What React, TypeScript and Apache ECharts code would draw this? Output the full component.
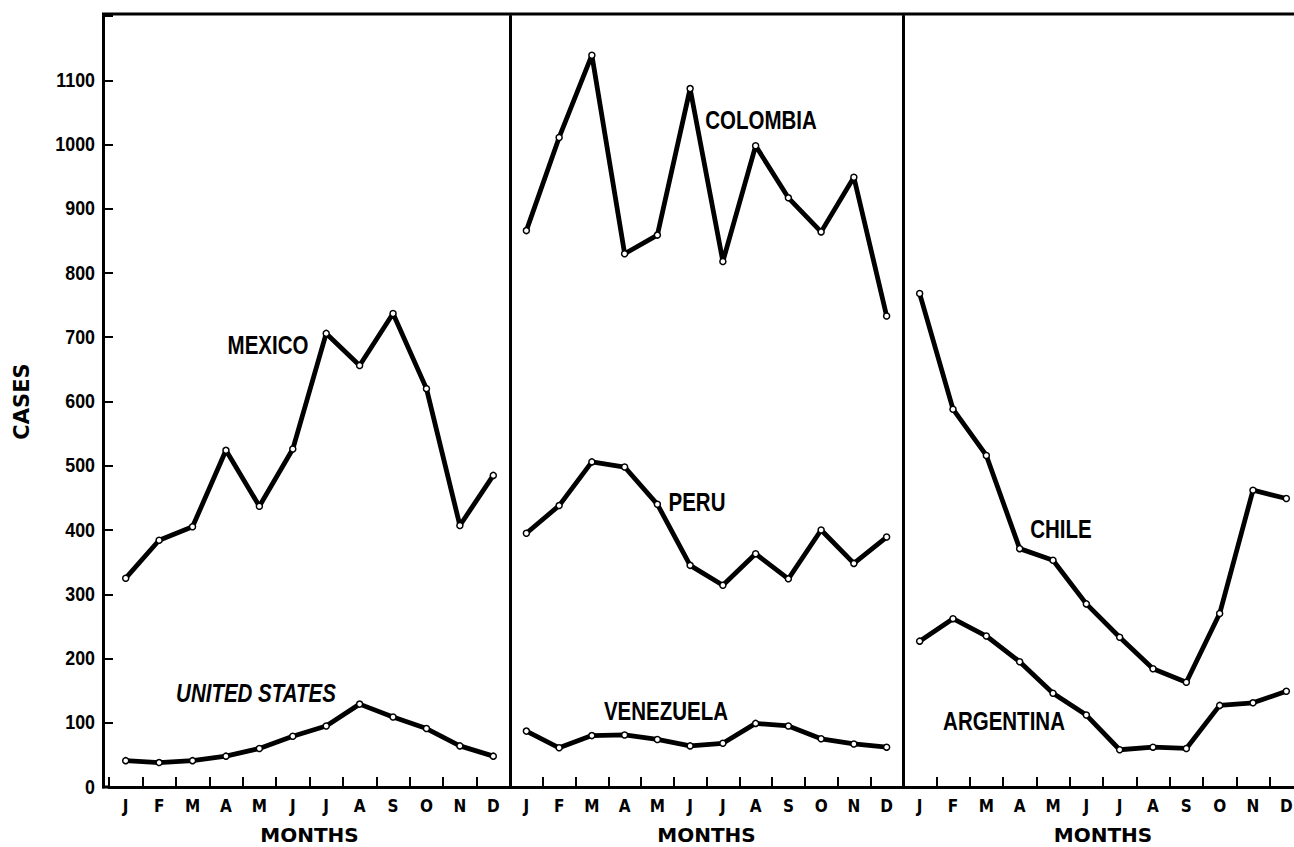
import React, { useEffect, useRef } from "react";
import * as echarts from "echarts";

const months = ["J", "F", "M", "A", "M", "J", "J", "A", "S", "O", "N", "D"];

const mexico = [325, 384, 405, 524, 437, 526, 706, 656, 737, 620, 407, 485];
const unitedStates = [41, 38, 41, 48, 60, 79, 95, 129, 109, 91, 64, 48];
const colombia = [866, 1011, 1139, 830, 859, 1087, 818, 998, 917, 864, 949, 733];
const peru = [395, 438, 506, 498, 440, 345, 314, 363, 324, 400, 348, 389];
const venezuela = [87, 61, 80, 81, 74, 64, 68, 99, 95, 75, 67, 62];
const chile = [768, 588, 516, 371, 353, 285, 233, 184, 163, 270, 462, 449];
const argentina = [227, 262, 235, 195, 146, 112, 58, 62, 60, 127, 131, 149];

const yTickLabels = [0, 100, 200, 300, 400, 500, 600, 700, 800, 900, 1000, 1100];
const yMin = 0;
const yMax = 1200;
const yInterval = 100;

const NARROW = "'Liberation Sans', Arial, sans-serif";
const CONDENSED = "'DejaVu Sans Condensed', 'Liberation Sans', sans-serif";
const WIDE = "'DejaVu Sans', Verdana, sans-serif";

export default function App() {
  const ref = useRef<HTMLDivElement>(null);

  useEffect(() => {
    document.body.style.margin = "0";
    if (!ref.current) return;
    const chart = echarts.init(ref.current, null, { renderer: "svg" });

    const grids = [
      { left: 109, top: 16, width: 401, height: 771, outerBoundsMode: "none", containLabel: false },
      { left: 510, top: 16, width: 393, height: 771, outerBoundsMode: "none", containLabel: false },
      { left: 903, top: 16, width: 400, height: 771, outerBoundsMode: "none", containLabel: false },
    ];

    const xAxes = grids.map((_, i) => ({
      type: "category",
      gridIndex: i,
      data: months,
      boundaryGap: true,
      name: "MONTHS",
      nameLocation: "middle",
      nameGap: 38,
      nameTextStyle: { fontFamily: WIDE, fontWeight: "bold", fontSize: 20, color: "#000", lineHeight: 20 },
      axisLine: { show: true, lineStyle: { color: "#000", width: 3 } },
      axisTick: { show: true, inside: true, length: 10, lineStyle: { color: "#000", width: 2 } },
      axisLabel: {
        color: "#000",
        fontFamily: CONDENSED,
        fontWeight: "bold",
        fontSize: 17,
        margin: 10,
        interval: 0,
      },
      splitLine: { show: false },
    }));

    const yAxes = grids.map((_, i) => ({
      type: "value",
      gridIndex: i,
      min: yMin,
      max: yMax,
      interval: yInterval,
      offset: i === 0 ? 6 : 0,
      name: i === 0 ? "CASES" : "",
      nameLocation: "middle",
      nameGap: 71,
      nameTextStyle: { fontFamily: WIDE, fontWeight: "bold", fontSize: 21, color: "#000" },
      axisLine: { show: true, lineStyle: { color: "#000", width: 3 } },
      axisTick: { show: i === 0, inside: true, length: 10, lineStyle: { color: "#000", width: 2 } },
      axisLabel: { show: false },
      splitLine: { show: false },
    }));

    const mk = (name: string, data: number[], idx: number) => ({
      name,
      type: "line",
      xAxisIndex: idx,
      yAxisIndex: idx,
      data,
      symbol: "circle",
      symbolSize: 6,
      showSymbol: true,
      lineStyle: { color: "#000", width: 4.8 },
      itemStyle: { color: "#fff", borderColor: "#000", borderWidth: 1.5 },
      z: 3,
    });

    const labelFont = (size: number, italic = false) =>
      `${italic ? "italic " : ""}bold ${size}px ${NARROW}`;

    const seriesLabels = [
      { text: "MEXICO", x: 268, y: 345, italic: false },
      { text: "UNITED STATES", x: 256, y: 693, italic: true },
      { text: "COLOMBIA", x: 761, y: 120, italic: false },
      { text: "PERU", x: 697, y: 502, italic: false },
      { text: "VENEZUELA", x: 666, y: 711, italic: false },
      { text: "CHILE", x: 1061, y: 529, italic: false },
      { text: "ARGENTINA", x: 1004, y: 721, italic: false },
    ];

    const frame = [
      {
        type: "line",
        shape: { x1: 102, y1: 14, x2: 1294, y2: 14 },
        style: { stroke: "#000", lineWidth: 3 },
        z: 10,
      },
      {
        type: "line",
        shape: { x1: 102, y1: 787, x2: 110, y2: 787 },
        style: { stroke: "#000", lineWidth: 3 },
        z: 10,
      },
    ];

    const labelTexts = seriesLabels.map((l) => ({
      type: "text",
      x: l.x,
      y: l.y,
      scaleX: 0.82,
      style: {
        text: l.text,
        fill: "#000",
        font: labelFont(25, l.italic),
        align: "center",
        verticalAlign: "middle",
      },
      z: 10,
    }));

    chart.setOption({
      animation: false,
      backgroundColor: "#fff",
      grid: grids,
      xAxis: xAxes,
      yAxis: yAxes,
      series: [
        mk("Mexico", mexico, 0),
        mk("United States", unitedStates, 0),
        mk("Colombia", colombia, 1),
        mk("Peru", peru, 1),
        mk("Venezuela", venezuela, 1),
        mk("Chile", chile, 2),
        mk("Argentina", argentina, 2),
      ],
      graphic: [...frame, ...labelTexts],
    });

    // y-axis tick labels in a condensed face, positioned through the axis scale
    const axisX = 103;
    const yLabelTexts = yTickLabels.map((v) => {
      const py = chart.convertToPixel({ yAxisIndex: 0 }, v) as number;
      return {
        type: "text",
        x: axisX - 8,
        y: py - 1,
        scaleX: 0.85,
        style: {
          text: String(v),
          fill: "#000",
          font: `bold 21px ${NARROW}`,
          align: "right",
          verticalAlign: "middle",
        },
        z: 10,
      };
    });

    chart.setOption({ graphic: [...frame, ...labelTexts, ...yLabelTexts] });

    return () => chart.dispose();
  }, []);

  return <div ref={ref} style={{ width: 1294, height: 847, background: "#fff" }} />;
}
